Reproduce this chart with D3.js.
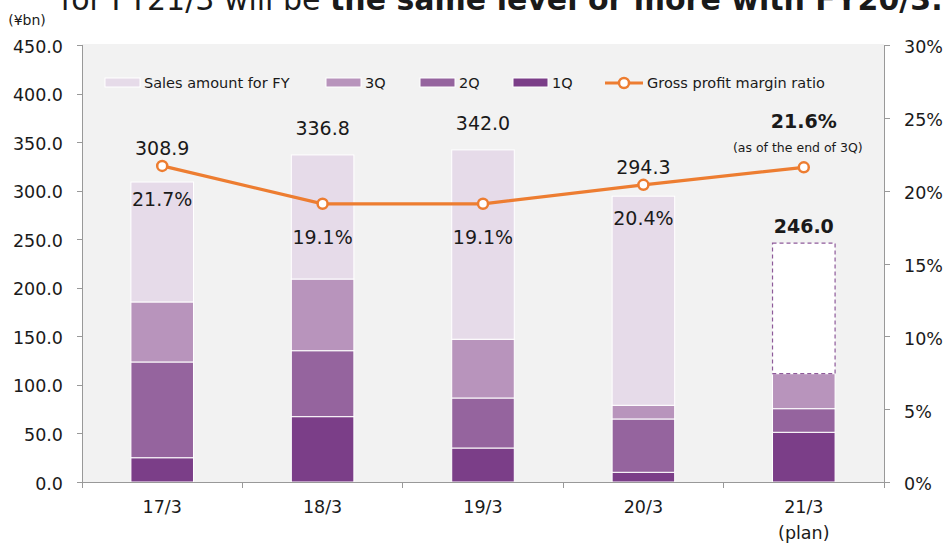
<!DOCTYPE html>
<html lang="en">
<head>
<meta charset="UTF-8">
<title>Sales amount and gross profit margin</title>
<script src="https://d3js.org/d3.v7.min.js"></script>
<style>
  body { margin: 0; background: #fff; }
  svg text { font-family: "DejaVu Sans", Verdana, sans-serif; fill: #1a1a1a; white-space: pre; }
  .axis path, .axis line { stroke: #999; shape-rendering: crispEdges; }
  .axis text { font-size: 17.5px; }
</style>
</head>
<body>
<svg id="chart" width="948" height="544"></svg>
<script>
// data
var categories = ["17/3", "18/3", "19/3", "20/3", "21/3"];
var q1 = [25.0, 67.3, 35.0, 10.0, 51.2];
var q2 = [98.6, 67.9, 51.5, 54.9, 24.3];
var q3 = [61.8, 73.8, 60.5, 14.1, 36.0];
var fyTotal = [308.9, 336.8, 342.0, 294.3, 246.0];
var margin = [21.7, 19.1, 19.1, 20.4, 21.6];
var leftTicks = [0, 50, 100, 150, 200, 250, 300, 350, 400, 450];
var rightTicks = [0, 5, 10, 15, 20, 25, 30];

var colors = { fy: "#e6dbe9", q3: "#b894bc", q2: "#95649e", q1: "#7b3e88", line: "#ed7d31" };

var svg = d3.select("#chart");
var plotLeft = 82, plotRight = 884, plotTop = 45, plotBottom = 482;

var x = d3.scaleBand().domain(categories).range([plotLeft, plotRight]).paddingInner(0.61).paddingOuter(0.305);
var xCat = d3.scaleBand().domain(categories).range([plotLeft, plotRight]).padding(0);
var y = d3.scaleLinear().domain([0, 450]).range([plotBottom, plotTop]);
var y2 = d3.scaleLinear().domain([0, 30]).range([plotBottom, plotTop]);

// title (cut at top of slide)
svg.append("text").attr("x", 330).attr("y", 10).attr("text-anchor", "end").style("font-size", "30px")
   .text("for FY21/3 will be ");
svg.append("text").attr("x", 330).attr("y", 10).style("font-size", "30px").style("font-weight", "bold")
   .text("the same level or more with FY20/3.");

// plot background
svg.append("rect").attr("x", plotLeft).attr("y", plotTop - 1).attr("width", plotRight - plotLeft)
   .attr("height", plotBottom - plotTop + 1).attr("fill", "#f2f2f2");

svg.append("text").attr("x", 27).attr("y", 25).attr("text-anchor", "middle").style("font-size", "14px").text("(¥bn)");

// stacked segments
var rows = categories.map(function(c, i) {
  var planned = i === categories.length - 1;
  var s1 = q1[i], s2 = s1 + q2[i], s3 = s2 + q3[i];
  return { cat: c, segs: [
    { y0: 0, y1: s1, fill: colors.q1 },
    { y0: s1, y1: s2, fill: colors.q2 },
    { y0: s2, y1: s3, fill: colors.q3 },
    { y0: s3, y1: fyTotal[i], fill: planned ? "#ffffff" : colors.fy, planned: planned }
  ]};
});

var bars = svg.selectAll(".bar").data(rows).enter().append("g").attr("class", "bar");
bars.selectAll("rect").data(function(d) { return d.segs.map(function(s) { s.cat = d.cat; return s; }); })
  .enter().append("rect")
  .attr("x", function(d) { return x(d.cat); })
  .attr("width", x.bandwidth())
  .attr("y", function(d) { return y(d.y1); })
  .attr("height", function(d) { return y(d.y0) - y(d.y1); })
  .attr("fill", function(d) { return d.fill; })
  .attr("stroke", function(d) { return d.planned ? "#8e5a9a" : "#ffffff"; })
  .attr("stroke-width", function(d) { return d.planned ? 1.2 : 1; })
  .attr("stroke-dasharray", function(d) { return d.planned ? "4,3" : null; });

// axes
var gl = svg.append("g").attr("class", "axis").attr("transform", "translate(" + plotLeft + ",0)")
  .call(d3.axisLeft(y).tickValues(leftTicks).tickFormat(d3.format(".1f")).tickSize(5).tickPadding(14));
var gr = svg.append("g").attr("class", "axis").attr("transform", "translate(" + plotRight + ",0)")
  .call(d3.axisRight(y2).tickValues(rightTicks).tickFormat(function(d) { return d + "%"; }).tickSize(6).tickPadding(14));
gr.selectAll("text").attr("dy", "0.45em");
gl.selectAll("text").attr("dy", "0.4em");

var gx = svg.append("g").attr("class", "axis").attr("transform", "translate(0," + plotBottom + ")")
  .call(d3.axisBottom(xCat).tickValues([]).tickSizeOuter(0));
gx.selectAll(".sep").data(categories.concat(["end"])).enter().append("line")
  .attr("x1", function(d, i) { return plotLeft + i * xCat.step(); })
  .attr("x2", function(d, i) { return plotLeft + i * xCat.step(); })
  .attr("y1", 0).attr("y2", 6).attr("stroke", "#999");
svg.selectAll(".catLabel").data(categories).enter().append("text")
  .attr("x", function(d) { return xCat(d) + xCat.bandwidth() / 2; })
  .attr("y", 513).attr("text-anchor", "middle").style("font-size", "17.5px").text(function(d) { return d; });
svg.append("text").attr("x", xCat("21/3") + xCat.bandwidth() / 2).attr("y", 539)
  .attr("text-anchor", "middle").style("font-size", "17.5px").text("(plan)");

// margin line
var cx = function(d, i) { return x(categories[i]) + x.bandwidth() / 2; };
var line = d3.line().x(cx).y(function(d) { return y2(d); });
svg.append("path").datum(margin).attr("d", line).attr("fill", "none")
  .attr("stroke", colors.line).attr("stroke-width", 3.2);
svg.selectAll(".pt").data(margin).enter().append("circle")
  .attr("cx", cx).attr("cy", function(d) { return y2(d); }).attr("r", 5)
  .attr("fill", "#fff").attr("stroke", colors.line).attr("stroke-width", 2.5);

// labels
var n = categories.length;
svg.selectAll(".total").data(fyTotal.slice(0, n - 1)).enter().append("text")
  .attr("x", cx).attr("text-anchor", "middle").style("font-size", "19px")
  .attr("y", function(d, i) { return Math.min(y(d) - 20, y2(margin[i]) - 11); })
  .text(function(d) { return d.toFixed(1); });
svg.selectAll(".pct").data(margin.slice(0, n - 1)).enter().append("text")
  .attr("x", cx).attr("text-anchor", "middle").style("font-size", "19px")
  .attr("y", function(d) { return y2(d) + 40; })
  .text(function(d) { return d.toFixed(1) + "%"; });

var lx = cx(null, n - 1);
svg.append("text").attr("x", lx).attr("y", y(fyTotal[n - 1]) - 10).attr("text-anchor", "middle")
  .style("font-size", "19px").style("font-weight", "bold").text(fyTotal[n - 1].toFixed(1));
svg.append("text").attr("x", lx).attr("y", y2(margin[n - 1]) - 39).attr("text-anchor", "middle")
  .style("font-size", "19px").style("font-weight", "bold").text(margin[n - 1].toFixed(1) + "%");
svg.append("text").attr("x", lx - 6).attr("y", y2(margin[n - 1]) - 15).attr("text-anchor", "middle")
  .style("font-size", "12.5px").text("(as of the end of 3Q)");

// legend
var legendItems = [
  { label: "Sales amount for FY", color: colors.fy, x: 105 },
  { label: "3Q", color: colors.q3, x: 326 },
  { label: "2Q", color: colors.q2, x: 420 },
  { label: "1Q", color: colors.q1, x: 513 }
];
var lg = svg.selectAll(".leg").data(legendItems).enter().append("g");
lg.append("rect").attr("x", function(d) { return d.x; }).attr("y", 78).attr("width", 35).attr("height", 9)
  .attr("fill", function(d) { return d.color; }).attr("stroke", "#fff").attr("stroke-width", 1);
lg.append("text").attr("x", function(d) { return d.x + 39; }).attr("y", 88).style("font-size", "14.5px")
  .text(function(d) { return d.label; });
svg.append("line").attr("x1", 605).attr("x2", 643).attr("y1", 83).attr("y2", 83)
  .attr("stroke", colors.line).attr("stroke-width", 3.2);
svg.append("circle").attr("cx", 624).attr("cy", 83).attr("r", 5).attr("fill", "#fff")
  .attr("stroke", colors.line).attr("stroke-width", 2.5);
svg.append("text").attr("x", 647).attr("y", 88).style("font-size", "14.5px").text("Gross profit margin ratio");
</script>
</body>
</html>
